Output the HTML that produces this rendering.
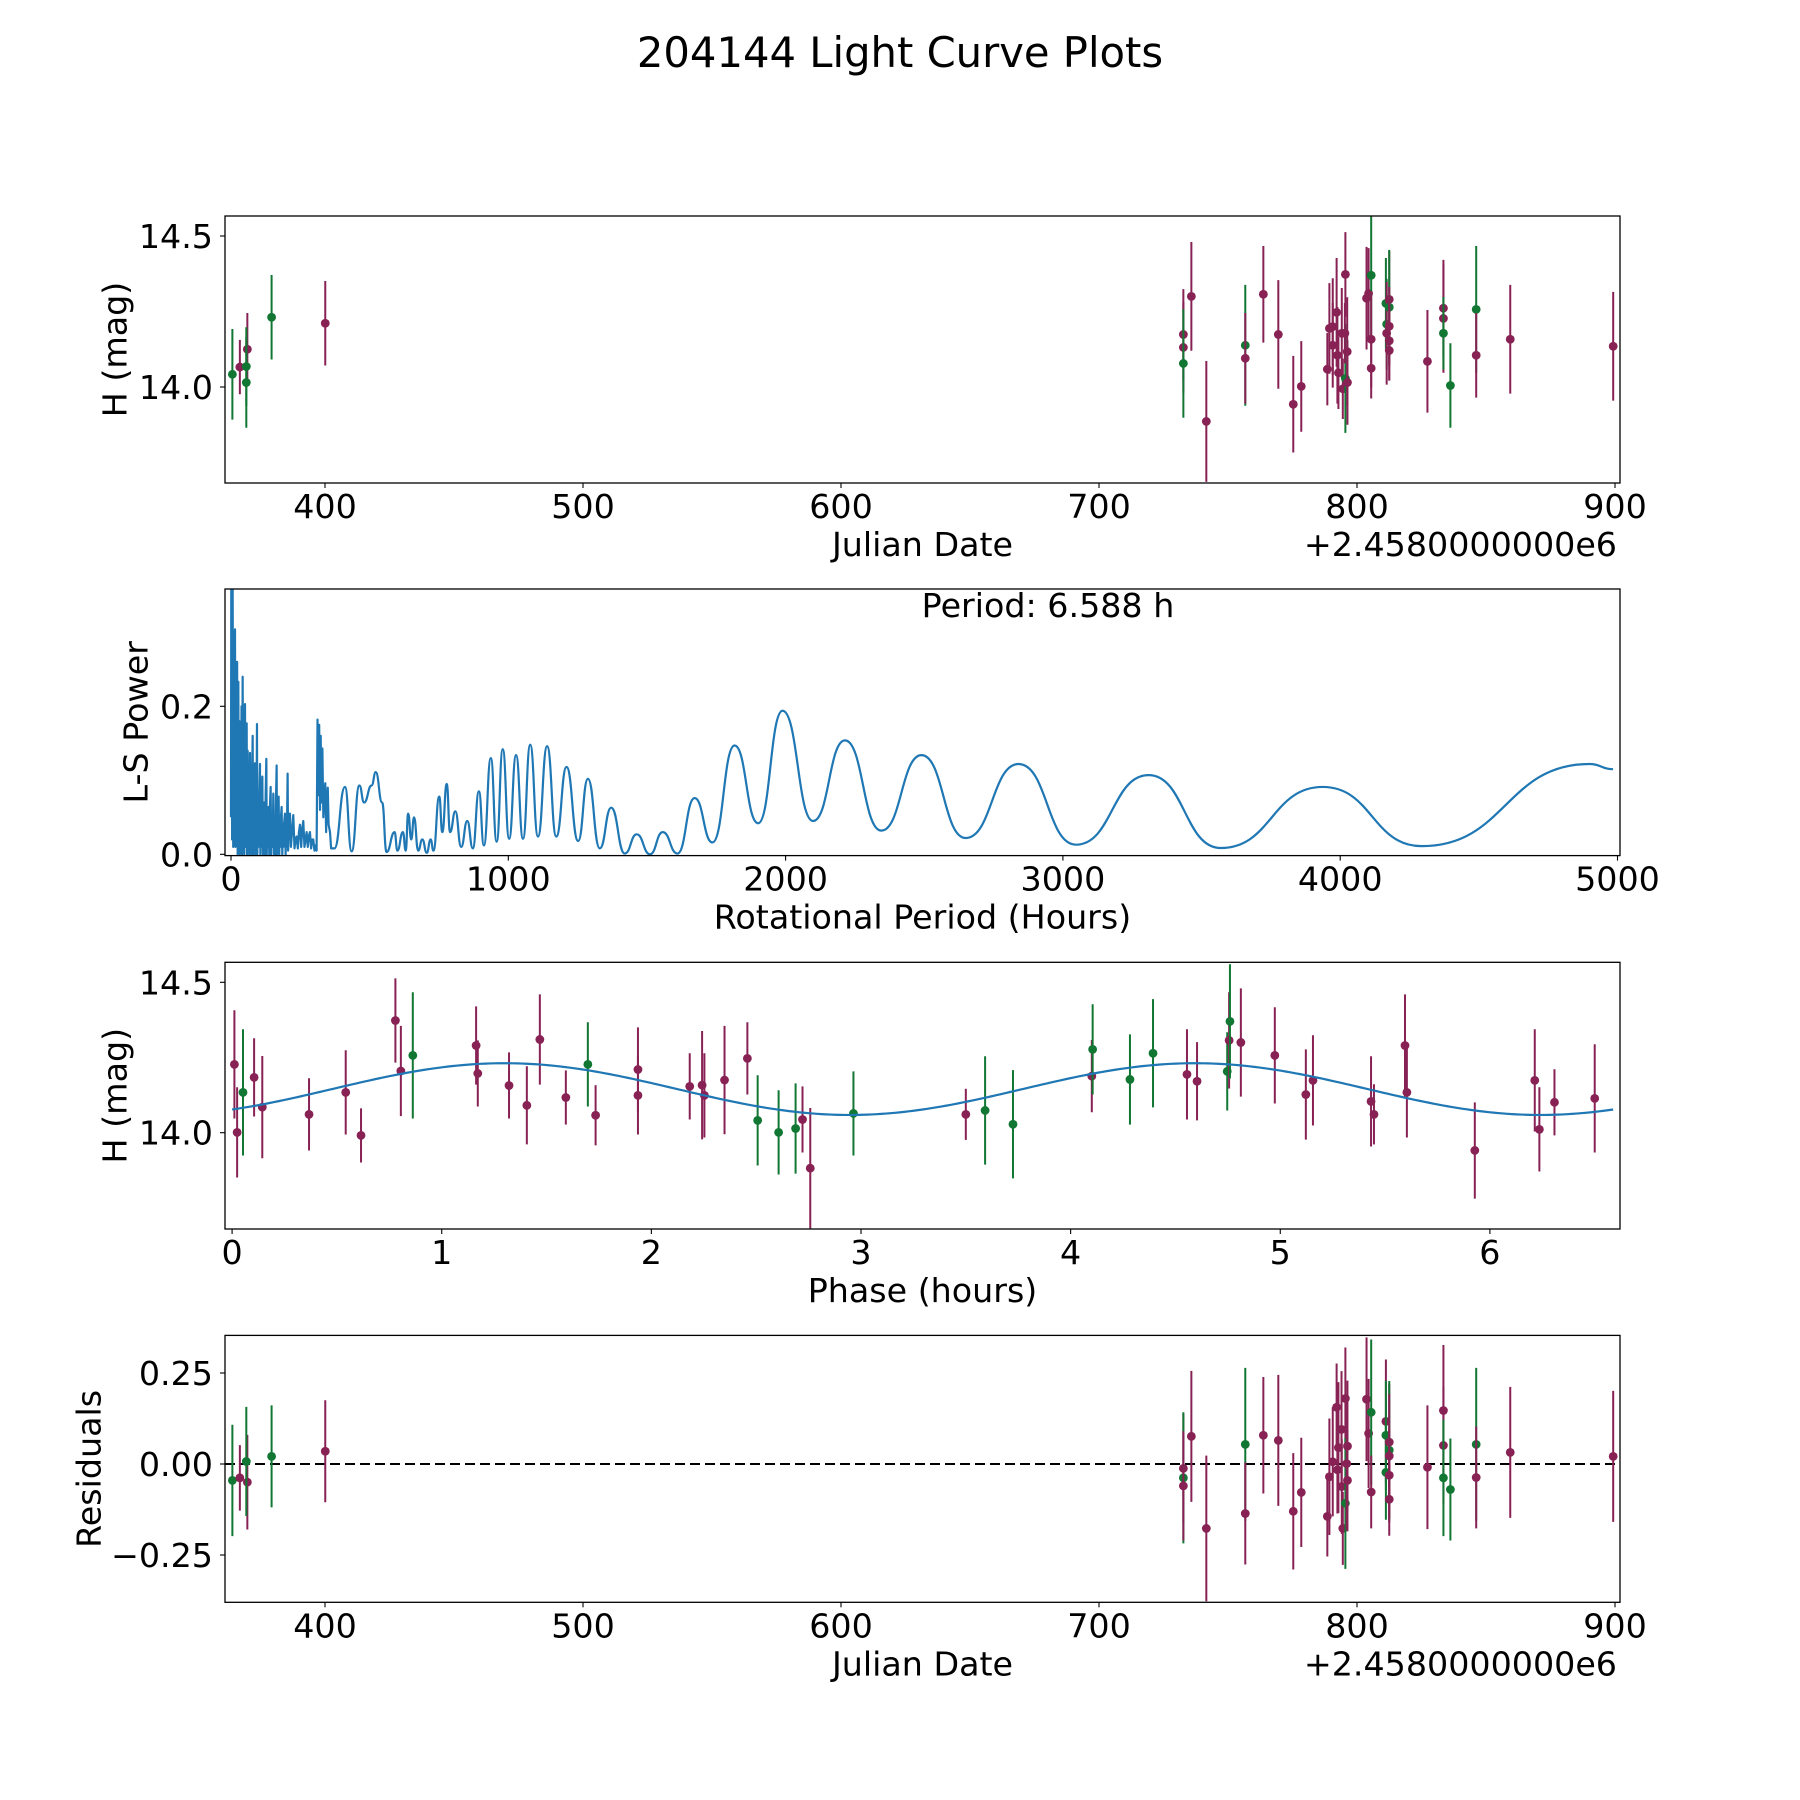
<!DOCTYPE html>
<html><head><meta charset="utf-8"><title>204144 Light Curve Plots</title>
<style>
html,body{margin:0;padding:0;background:#fff;}
svg{display:block;font-family:"DejaVu Sans","Liberation Sans",sans-serif;}
</style></head>
<body>
<svg id="fig" width="1800" height="1800" viewBox="0 0 1800 1800" xmlns="http://www.w3.org/2000/svg">
<rect width="1800" height="1800" fill="#fff"/>
<text x="900" y="67" font-size="41.7" text-anchor="middle">204144 Light Curve Plots</text>
<g id="p1"></g>
<g id="p2"></g>
<g id="p3"></g>
<g id="p4"></g>
</svg>
<script>
// ---------------- DATA ----------------
const lcJD = [364.1,367,369.9,369.5,369.5,379.3,400.1,732.7,732.7,732.7,735.8,741.6,756.7,756.7,763.7,769.5,775.3,778.4,788.5,789.3,790.6,790.6,792.1,792.4,792.8,794.1,794.5,795.5,795.5,796.2,796.3,795.3,803.7,804.5,805.5,805.5,805.5,811.2,811.5,811.5,812.5,812.5,812.5,812.5,812.5,827.3,833.5,833.5,833.5,836.2,846.2,846.2,859.4,899.3];
const lcMag = [14.042,14.066,14.125,14.068,14.015,14.231,14.211,14.174,14.131,14.078,14.300,13.886,14.138,14.095,14.307,14.174,13.943,14.002,14.059,14.194,14.200,14.138,14.247,14.105,14.047,14.178,13.994,14.373,14.028,14.117,14.015,14.178,14.294,14.310,14.370,14.158,14.062,14.277,14.208,14.178,14.290,14.264,14.201,14.153,14.121,14.085,14.261,14.227,14.178,14.005,14.257,14.105,14.158,14.135];
const lcErr = [0.15,0.09,0.12,0.13,0.15,0.14,0.14,0.15,0.15,0.18,0.18,0.2,0.2,0.15,0.16,0.18,0.16,0.15,0.12,0.15,0.16,0.14,0.18,0.16,0.12,0.15,0.1,0.14,0.18,0.18,0.14,0.1,0.17,0.15,0.2,0.16,0.1,0.15,0.15,0.17,0.16,0.19,0.13,0.13,0.1,0.17,0.16,0.18,0.12,0.14,0.21,0.14,0.18,0.18];
const lcFilt = ['g','m','m','g','g','g','m','m','m','g','m','m','g','m','m','m','m','m','m','m','m','m','m','m','m','m','m','m','g','m','m','m','m','m','g','m','m','g','g','m','m','g','m','m','m','m','m','m','g','g','g','m','m','m'];

const lsNoiseP = [0,1,2.4,4,6,8,10,12,14.4,16,18,20,22,24,26.4,28,30,32,33.6,36,38,40,42,44,46,48,50.5,52,54,56.5,58,60,62,64,66,68.5,70,72,74,76,78.1,80,82,84,86.5,88,90,91.5,93.7,95,97,99,101,104.5,106,108,110,113,115,117,120,122,125,127.4,129,131,133,135.8,138,140,143,145,147,150,152.6,155,157,160,162,164.6,166,168,170,171.8,174,176,178,180,182.6,185,187,189,191,194.6,197,199,201,204.2,206,209,212.6,216,220,224.6,229,233,236.6,241,245,248.7,253,257,260.7,265,269,272.7,277,281,284.7,289,293,296.7,301,305,308.7,312,315,318,321,323.5,326,329.5,333,336.7,340,343,345,349,352,357,361,365,369];
const lsNoisePow = [0.05,0.36,0.314,0.02,0.36,0.01,0.30,0.02,0.304,0.01,0.22,0.03,0.26,0.0,0.233,0.02,0.18,0.0,0.154,0.01,0.2,0.0,0.24,0.02,0.13,0.0,0.203,0.01,0.12,0.177,0.0,0.14,0.02,0.11,0.0,0.137,0.01,0.12,0.0,0.1,0.160,0.0,0.09,0.01,0.123,0.0,0.1,0.01,0.176,0.0,0.08,0.01,0.06,0.122,0.0,0.07,0.01,0.105,0.0,0.05,0.07,0.0,0.08,0.129,0.0,0.05,0.01,0.064,0.0,0.06,0.091,0.0,0.05,0.01,0.082,0.0,0.04,0.0,0.07,0.120,0.0,0.05,0.01,0.078,0.0,0.04,0.01,0.05,0.064,0.0,0.03,0.01,0.04,0.055,0.0,0.03,0.01,0.109,0.005,0.04,0.055,0.01,0.03,0.053,0.008,0.02,0.024,0.008,0.03,0.04,0.01,0.035,0.045,0.01,0.02,0.03,0.01,0.025,0.03,0.008,0.02,0.02,0.005,0.012,0.005,0.182,0.08,0.175,0.06,0.16,0.07,0.143,0.05,0.08,0.096,0.03,0.06,0.09,0.04,0.03,0.008];
const lsExtP = [373,411,435,463,480,507,522,545,561,590,600,620,630,639,650,660,675,690,706,720,730,751,762,778,790,809,830,852,872,894,912,937,958,980,1003,1028,1053,1079,1107,1140,1173,1210,1252,1287,1330,1371,1420,1463,1511,1557,1610,1672,1736,1816,1901,1989,2099,2214,2345,2490,2649,2840,3047,3309,3569,3937,4294,4899,4984];
const lsExtPow = [0.008,0.091,0.004,0.093,0.07,0.093,0.111,0.07,0.003,0.03,0.005,0.03,0.005,0.055,0.02,0.05,0.005,0.02,0.002,0.02,0.005,0.078,0.03,0.095,0.03,0.058,0.01,0.045,0.008,0.085,0.012,0.130,0.017,0.142,0.021,0.134,0.021,0.148,0.024,0.146,0.024,0.118,0.018,0.102,0.008,0.063,0.001,0.027,0.0,0.030,0.001,0.076,0.016,0.147,0.042,0.194,0.045,0.154,0.032,0.134,0.022,0.122,0.013,0.107,0.0085,0.091,0.011,0.122,0.115];
const lsPeriodLabel = ["Period: 6.588 h"];

const phPhase = [0.011,0.024,0.052,0.105,0.144,0.367,0.542,0.615,0.779,0.805,0.862,1.164,1.172,1.321,1.406,1.468,1.592,1.697,1.734,1.936,1.936,2.183,2.242,2.253,2.349,2.458,2.507,2.607,2.688,2.721,2.758,2.964,3.500,3.592,3.725,4.101,4.105,4.283,4.393,4.555,4.603,4.747,4.756,4.760,4.812,4.974,5.122,5.156,5.433,5.447,5.595,5.604,5.928,6.214,6.236,6.308,6.500];
const phMag = [14.227,14.001,14.134,14.184,14.085,14.061,14.134,13.991,14.373,14.205,14.257,14.290,14.197,14.157,14.091,14.310,14.117,14.227,14.058,14.210,14.124,14.154,14.158,14.124,14.175,14.247,14.041,14.001,14.014,14.044,13.882,14.064,14.061,14.074,14.028,14.188,14.277,14.177,14.264,14.194,14.171,14.204,14.307,14.370,14.300,14.257,14.127,14.174,14.104,14.061,14.290,14.134,13.941,14.174,14.011,14.101,14.114];
const phErr = [0.18,0.15,0.21,0.13,0.17,0.12,0.14,0.09,0.14,0.15,0.21,0.13,0.11,0.11,0.13,0.15,0.09,0.14,0.10,0.14,0.13,0.11,0.18,0.14,0.18,0.12,0.15,0.14,0.15,0.11,0.2,0.14,0.085,0.18,0.18,0.12,0.15,0.15,0.18,0.15,0.13,0.13,0.16,0.19,0.18,0.16,0.15,0.15,0.15,0.1,0.17,0.15,0.16,0.17,0.14,0.11,0.18];
const phFilt = ['m','m','g','m','m','m','m','m','m','m','g','m','m','m','m','m','m','g','m','m','m','m','m','m','m','m','g','g','g','m','m','g','m','g','g','m','g','g','g','m','m','g','m','g','m','m','m','m','m','m','m','m','m','m','m','m','m'];
const fitMean = [14.145];
const fitAmp = [0.086];
const fitHalfPeriod = [3.294];
const fitPeakPhase = [1.3];

const rsJD = [364.1,367,369.9,369.5,379.3,400.1,732.7,732.7,732.7,735.8,741.6,756.7,756.7,763.7,769.5,775.3,778.4,788.5,789.3,790.6,792.1,792.4,792.8,794.0,794.1,794.5,795.5,795.5,796.0,796.3,796.3,803.7,804.5,805.5,805.5,811.2,811.2,811.2,812.5,812.5,812.5,812.5,812.5,827.3,833.5,833.5,833.5,836.2,846.2,846.2,859.4,899.3];
const rsVal = [-0.045,-0.038,-0.050,0.007,0.021,0.035,-0.012,-0.038,-0.060,0.076,-0.177,0.054,-0.136,0.079,0.065,-0.130,-0.078,-0.144,-0.035,0.006,0.156,-0.016,0.045,0.095,-0.062,-0.177,0.180,-0.108,0.001,0.049,-0.045,0.178,0.084,0.142,-0.077,0.117,0.079,-0.023,0.060,0.038,0.022,-0.031,-0.097,-0.009,0.147,0.051,-0.038,-0.070,0.054,-0.037,0.032,0.021];
const rsErr = [0.153,0.09,0.13,0.15,0.14,0.14,0.15,0.18,0.15,0.18,0.2,0.21,0.14,0.16,0.18,0.16,0.15,0.11,0.16,0.15,0.12,0.12,0.18,0.16,0.13,0.1,0.14,0.18,0.18,0.18,0.14,0.17,0.15,0.2,0.1,0.17,0.15,0.13,0.16,0.19,0.17,0.13,0.1,0.17,0.18,0.16,0.16,0.14,0.21,0.14,0.18,0.18];
const rsFilt = ['g','m','m','g','g','m','m','g','m','m','m','g','m','m','m','m','m','m','m','m','m','m','m','m','m','m','m','g','m','m','m','m','m','g','m','m','g','g','m','g','m','m','m','m','m','m','g','g','g','m','m','m'];

const jdTicks = [400,500,600,700,800,900];
const magTicks = [14.0,14.5];
const lsXTicks = [0,1000,2000,3000,4000,5000];
const lsYTicks = [0.0,0.2];
const phXTicks = [0,1,2,3,4,5,6];
const rsYTicks = [-0.25,0.0,0.25];

// ---------------- RENDER ----------------
const NS = 'http://www.w3.org/2000/svg';
const COL = {m:'#882255', g:'#117733'};
const L = 225, R = 1620;
function mk(parent, tag, attrs){
  const e = document.createElementNS(NS, tag);
  for (const k in attrs) e.setAttribute(k, attrs[k]);
  parent.appendChild(e);
  return e;
}
function lin(d0,d1,r0,r1){ return v => r0 + (v-d0)*(r1-r0)/(d1-d0); }

function axes(g, top, bot, xs, ys, xt, yt, xfmt, yfmt, xlabel, ylabel, ylabX, offsetText){
  const frame = mk(g,'rect',{x:L,y:top,width:R-L,height:bot-top,fill:'none',stroke:'#000','stroke-width':1.3});
  
  
  xt.forEach(v=>{
    const x = xs(v);
    const t = mk(g,'line',{x1:x,x2:x,y1:bot,y2:bot+5,stroke:'#000','stroke-width':1.1});
    
    
    const tx = mk(g,'text',{x:x,y:bot+35,'font-size':33.3,'text-anchor':'middle'});
    
    
    tx.textContent = xfmt(v);
  });
  yt.forEach(v=>{
    const y = ys(v);
    const t = mk(g,'line',{x1:L-5,x2:L,y1:y,y2:y,stroke:'#000','stroke-width':1.1});
    
    
    const tx = mk(g,'text',{x:L-12,y:y+12,'font-size':33.3,'text-anchor':'end'});
    
    
    tx.textContent = yfmt(v);
  });
  const xl = mk(g,'text',{x:(L+R)/2,y:bot+73,'font-size':33.3,'text-anchor':'middle'});
  
  
  xl.textContent = xlabel;
  const cy = (top+bot)/2;
  const yl = mk(g,'text',{x:ylabX,y:cy,'font-size':33.3,'text-anchor':'middle',transform:`rotate(-90 ${ylabX} ${cy})`,'dominant-baseline':'central'});
  
  
  yl.textContent = ylabel;
  if (offsetText){
    const o = mk(g,'text',{x:R-3,y:bot+73,'font-size':33.3,'text-anchor':'end'});
    
    
    o.textContent = offsetText;
  }
}
function clipFor(id, top, bot){
  const defs = mk(document.getElementById('fig'),'defs',{});
  const cp = mk(defs,'clipPath',{id:id});
  mk(cp,'rect',{x:L,y:top,width:R-L,height:bot-top});
  return `url(#${id})`;
}
function errPoints(g, xs, ys, X, Y, E, F, name){
  const pg = mk(g,'g',{});
  const n = Math.min(X.length, Y.length, E.length, F.length);
  for (let i=0;i<n;i++){
    const c = COL[F[i]];
    const x = xs(X[i]);
    const ln = mk(pg,'line',{x1:x,x2:x,y1:ys(Y[i]-E[i]),y2:ys(Y[i]+E[i]),stroke:c,'stroke-width':2});
    
    
    const d = mk(pg,'circle',{cx:x,cy:ys(Y[i]),r:4.4,fill:c});
    
    
  }
  return pg;
}
const fmt1 = v => v.toFixed(1);

// Panel 1
(function(){
  const g = document.getElementById('p1');
  const top=216, bot=483;
  const xs = lin(400,900,325,1615), ys = lin(14.0,14.5,387,236);
  const cl = clipFor('c1',top,bot);
  const pg = errPoints(g,xs,ys,lcJD,lcMag,lcErr,lcFilt,'light-curve');
  pg.setAttribute('clip-path',cl);
  axes(g,top,bot,xs,ys,jdTicks,magTicks,v=>String(v),fmt1,'Julian Date','H (mag)',115,'+2.4580000000e6');
})();

// Panel 2
(function(){
  const g = document.getElementById('p2');
  const top=589, bot=855.6;
  const xs = lin(0,1000,231,508.3), ys = lin(0,0.2,854.3,706.3);
  const cl = clipFor('c2',top,bot);
  const pts = [];
  const nn = Math.min(lsNoiseP.length, lsNoisePow.length);
  for (let i=0;i<nn;i++){
    const x = xs(lsNoiseP[i]), y = ys(lsNoisePow[i]);
    if (isFinite(x) && isFinite(y)) pts.push([x,y]);
  }
  let d = '';
  pts.forEach((p,i)=>{ d += (i?'L':'M') + p[0].toFixed(2)+','+p[1].toFixed(2); });
  let px = pts[pts.length-1][0], py = pts[pts.length-1][1];
  const ne = Math.min(lsExtP.length, lsExtPow.length);
  for (let i=0;i<ne;i++){
    const x = xs(lsExtP[i]), y = ys(lsExtPow[i]);
    if (!isFinite(x) || !isFinite(y)) continue;
    const mx = (px+x)/2;
    d += `C${mx.toFixed(2)},${py.toFixed(2)} ${mx.toFixed(2)},${y.toFixed(2)} ${x.toFixed(2)},${y.toFixed(2)}`;
    px = x; py = y;
  }
  const p = mk(g,'path',{d:d,fill:'none',stroke:'#1f77b4','stroke-width':2.2,'stroke-linejoin':'round','clip-path':cl});
  
  
  const t = mk(g,'text',{x:1048,y:617,'font-size':33.3,'text-anchor':'middle'});
  
  
  t.textContent = lsPeriodLabel[0];
  axes(g,top,bot,xs,ys,lsXTicks,lsYTicks,v=>String(v),fmt1,'Rotational Period (Hours)','L-S Power',136,null);
})();

// Panel 3
(function(){
  const g = document.getElementById('p3');
  const top=962.3, bot=1229;
  const xs = lin(0,6,232.1,1489.9), ys = lin(14.0,14.5,1132.7,982.3);
  const cl = clipFor('c3',top,bot);
  let d='';
  const n=300, maxPh = 2*fitHalfPeriod[0];
  for (let i=0;i<=n;i++){
    const t = maxPh*i/n;
    const v = fitMean[0] + fitAmp[0]*Math.cos(2*Math.PI*(t-fitPeakPhase[0])/fitHalfPeriod[0]);
    d += (i?'L':'M')+xs(t).toFixed(2)+','+ys(v).toFixed(2);
  }
  const pg = errPoints(g,xs,ys,phPhase,phMag,phErr,phFilt,'phase');
  pg.setAttribute('clip-path',cl);
  const p = mk(g,'path',{d:d,fill:'none',stroke:'#1f77b4','stroke-width':2.2,'clip-path':cl});
  
  
  axes(g,top,bot,xs,ys,phXTicks,magTicks,v=>String(v),fmt1,'Phase (hours)','H (mag)',115,null);
})();

// Panel 4
(function(){
  const g = document.getElementById('p4');
  const top=1335.4, bot=1602.3;
  const xs = lin(400,900,325,1615), ys = lin(0,0.25,1464,1373);
  const cl = clipFor('c4',top,bot);
  const z = mk(g,'line',{x1:L,x2:R,y1:ys(0),y2:ys(0),stroke:'#000','stroke-width':2,'stroke-dasharray':'10,5'});
  
  
  const pg = errPoints(g,xs,ys,rsJD,rsVal,rsErr,rsFilt,'residual');
  pg.setAttribute('clip-path',cl);
  axes(g,top,bot,xs,ys,jdTicks,rsYTicks,v=>String(v),v=>(v<0?'\u2212':'')+Math.abs(v).toFixed(2),'Julian Date','Residuals',89,'+2.4580000000e6');
})();
</script>
</body></html>
